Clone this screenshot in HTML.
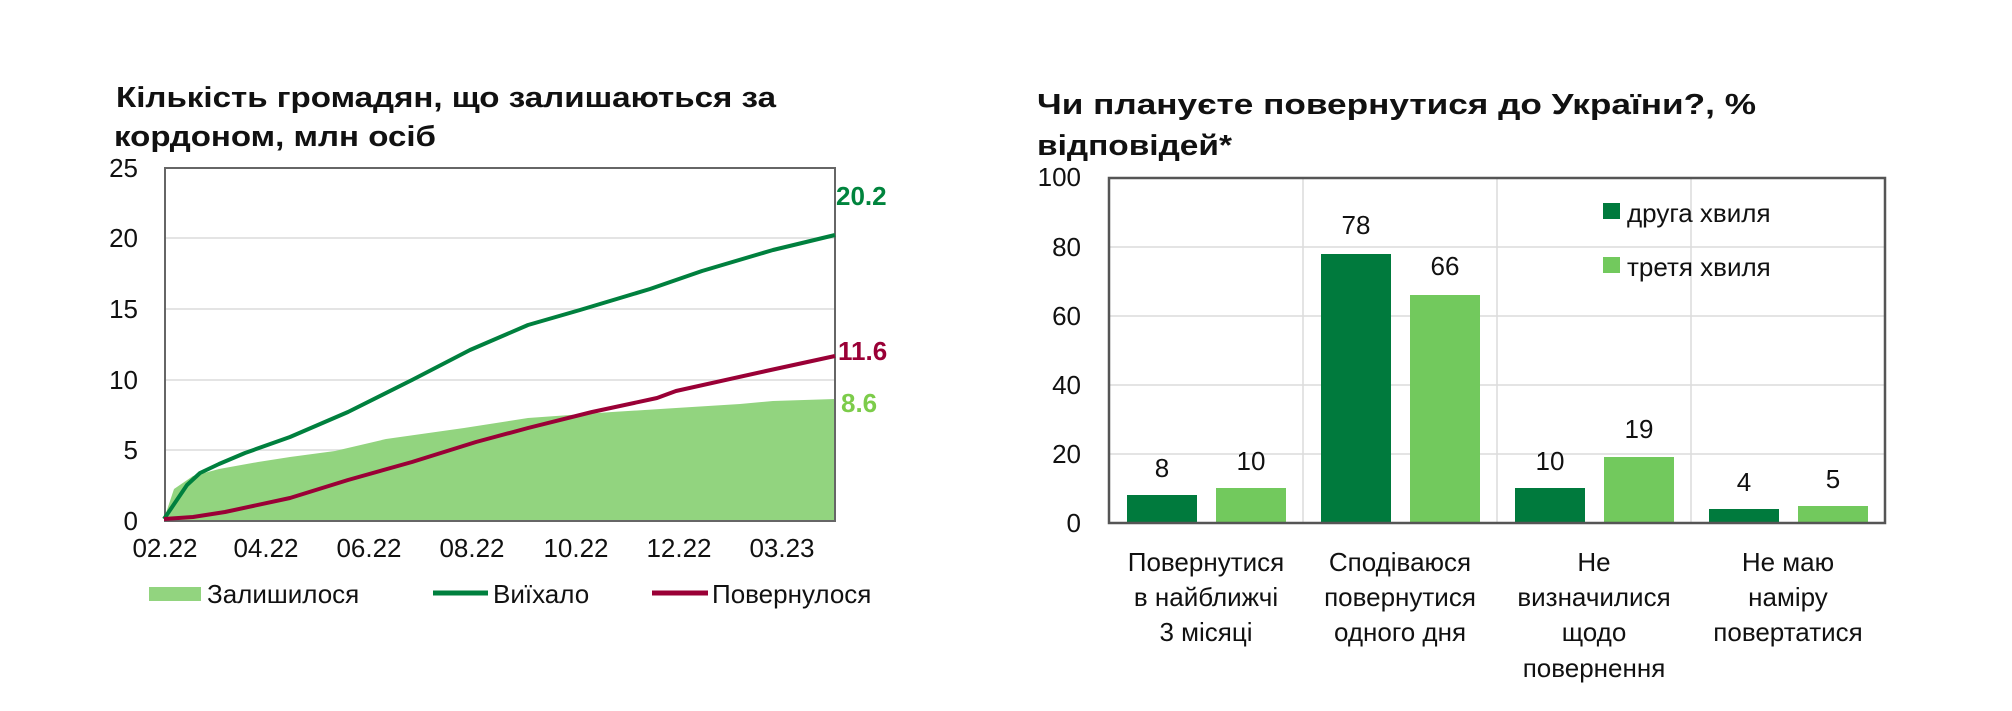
<!DOCTYPE html>
<html><head><meta charset="utf-8"><style>
html,body{margin:0;padding:0;background:#fff;}
svg{display:block;font-family:"Liberation Sans",Arial,sans-serif;}
</style></head><body>
<svg width="2012" height="711" viewBox="0 0 2012 711" xmlns="http://www.w3.org/2000/svg">
<!-- LEFT CHART -->
<text x="116" y="107" font-size="29" font-weight="bold" fill="#111" textLength="660" lengthAdjust="spacingAndGlyphs">Кількість громадян, що залишаються за</text>
<text x="114" y="146" font-size="29" font-weight="bold" fill="#111" textLength="322" lengthAdjust="spacingAndGlyphs">кордоном, млн осіб</text>
<g stroke="#dcdcdc" stroke-width="1.5">
<line x1="165" y1="450" x2="835" y2="450"/><line x1="165" y1="380" x2="835" y2="380"/>
<line x1="165" y1="309" x2="835" y2="309"/><line x1="165" y1="238" x2="835" y2="238"/>
</g>
<polygon fill="#92d47f" points="164,521 164,519 174,489 193,476 219,469 258,462 290,457 335,451 386,439 464,428 528,418 612,412 676,408 740,404 773,401 835,399 835,521"/>
<rect x="165" y="168" width="670" height="353" fill="none" stroke="#666" stroke-width="2"/>
<polyline fill="none" stroke="#00803e" stroke-width="4" stroke-linejoin="round" points="164,519 187,485 200,473 219,464 245,453 290,437 348,412 412,380 470,350 528,325 580,310 650,289 702,271 773,250 835,235"/>
<polyline fill="none" stroke="#9a0036" stroke-width="4" stroke-linejoin="round" points="164,519 193,517 225,512 290,498 348,480 412,462 476,442 528,428 592,412 657,398 676,391 766,371 835,356"/>
<g font-size="26" fill="#111" text-anchor="end">
<text x="138" y="177">25</text><text x="138" y="247">20</text><text x="138" y="318">15</text>
<text x="138" y="389">10</text><text x="138" y="459">5</text><text x="138" y="530">0</text>
</g>
<g font-size="26" fill="#111" text-anchor="middle">
<text x="165" y="557">02.22</text><text x="266" y="557">04.22</text><text x="369" y="557">06.22</text>
<text x="472" y="557">08.22</text><text x="576" y="557">10.22</text><text x="679" y="557">12.22</text><text x="782" y="557">03.23</text>
</g>
<text x="836" y="205" font-size="26" font-weight="bold" fill="#00843d">20.2</text>
<text x="838" y="360" font-size="26" font-weight="bold" fill="#9a0036">11.6</text>
<text x="841" y="412" font-size="26" font-weight="bold" fill="#7ccc4a">8.6</text>
<rect x="149" y="587" width="52" height="14" fill="#92d47f"/>
<text x="207" y="603" font-size="26" fill="#111">Залишилося</text>
<line x1="433" y1="593" x2="488" y2="593" stroke="#00803e" stroke-width="5"/>
<text x="493" y="603" font-size="26" fill="#111">Виїхало</text>
<line x1="652" y1="593" x2="708" y2="593" stroke="#9a0036" stroke-width="5"/>
<text x="712" y="603" font-size="26" fill="#111">Повернулося</text>

<!-- RIGHT CHART -->
<text x="1037" y="114" font-size="29" font-weight="bold" fill="#111" textLength="719" lengthAdjust="spacingAndGlyphs">Чи плануєте повернутися до України?, %</text>
<text x="1037" y="155" font-size="29" font-weight="bold" fill="#111" textLength="195" lengthAdjust="spacingAndGlyphs">відповідей*</text>
<g stroke="#dcdcdc" stroke-width="1.5">
<line x1="1109" y1="247" x2="1885" y2="247"/><line x1="1109" y1="316" x2="1885" y2="316"/>
<line x1="1109" y1="385" x2="1885" y2="385"/><line x1="1109" y1="454" x2="1885" y2="454"/>
<line x1="1303" y1="178" x2="1303" y2="523"/><line x1="1497" y1="178" x2="1497" y2="523"/><line x1="1691" y1="178" x2="1691" y2="523"/>
</g>
<g fill="#007a3d">
<rect x="1127" y="495" width="70" height="28"/>
<rect x="1321" y="254" width="70" height="269"/>
<rect x="1515" y="488" width="70" height="35"/>
<rect x="1709" y="509" width="70" height="14"/>
</g>
<g fill="#72c95d">
<rect x="1216" y="488" width="70" height="35"/>
<rect x="1410" y="295" width="70" height="228"/>
<rect x="1604" y="457" width="70" height="66"/>
<rect x="1798" y="506" width="70" height="17"/>
</g>
<rect x="1109" y="178" width="776" height="345" fill="none" stroke="#555" stroke-width="2.5"/>
<g font-size="26" fill="#111" text-anchor="end">
<text x="1081" y="186">100</text><text x="1081" y="256">80</text><text x="1081" y="325">60</text>
<text x="1081" y="394">40</text><text x="1081" y="463">20</text><text x="1081" y="532">0</text>
</g>
<g font-size="26" fill="#111" text-anchor="middle">
<text x="1162" y="477">8</text><text x="1251" y="470">10</text>
<text x="1356" y="234">78</text><text x="1445" y="275">66</text>
<text x="1550" y="470">10</text><text x="1639" y="438">19</text>
<text x="1744" y="491">4</text><text x="1833" y="488">5</text>
</g>
<rect x="1603" y="203" width="17" height="16" fill="#007a3d"/>
<text x="1627" y="222" font-size="26" fill="#111">друга хвиля</text>
<rect x="1603" y="257" width="17" height="16" fill="#72c95d"/>
<text x="1627" y="276" font-size="26" fill="#111">третя хвиля</text>
<g font-size="26" fill="#111" text-anchor="middle">
<text x="1206" y="571">Повернутися</text><text x="1206" y="606">в найближчі</text><text x="1206" y="641">3 місяці</text>
<text x="1400" y="571">Сподіваюся</text><text x="1400" y="606">повернутися</text><text x="1400" y="641">одного дня</text>
<text x="1594" y="571">Не</text><text x="1594" y="606">визначилися</text><text x="1594" y="641">щодо</text><text x="1594" y="677">повернення</text>
<text x="1788" y="571">Не маю</text><text x="1788" y="606">наміру</text><text x="1788" y="641">повертатися</text>
</g>
</svg>
</body></html>
